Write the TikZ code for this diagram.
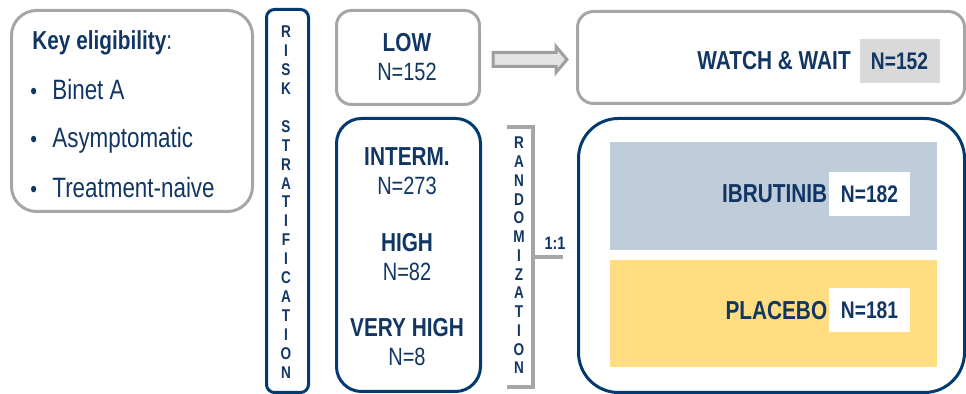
\documentclass[tikz,border=0pt]{standalone}
\usepackage{fontspec}
\setmainfont{Liberation Sans}[FakeStretch=0.8]
\usetikzlibrary{positioning,calc}

\definecolor{navy}{RGB}{0,58,112}
\definecolor{navytext}{RGB}{18,54,100}
\definecolor{boxgray}{RGB}{166,166,166}
\definecolor{taggray}{RGB}{217,217,217}
\definecolor{ibrublue}{RGB}{191,205,219}
\definecolor{placeboyellow}{RGB}{255,221,128}

\begin{document}
\begin{tikzpicture}[
  x=0.5pt, y=-0.5pt,
  every node/.style={text=navytext},
  greybox/.style={rectangle, draw=boxgray, line width=1.5pt, anchor=north west},
  navybox/.style={rectangle, draw=navy, line width=1.5pt, anchor=north west},
  armbox/.style={rectangle, anchor=north west, minimum width=163.5pt, minimum height=53.5pt},
  tag/.style={rectangle, minimum width=40.5pt, minimum height=22pt, inner sep=0pt, font=\fontsize{12}{14}\selectfont\bfseries},
  grouplbl/.style={font=\fontsize{13}{15}\selectfont\bfseries, inner sep=0pt},
  nval/.style={font=\fontsize{12.5}{15}\selectfont, inner sep=0pt},
  letter/.style={font=\fontsize{8.5}{9}\selectfont\bfseries, inner sep=0pt},
  elig/.style={font=\fontsize{14}{16}\selectfont, inner sep=0pt, anchor=base west},
  bigarrow/.style={draw=gray!75, fill=gray!22, line width=1.5pt, line join=miter},
  bracket/.style={draw=boxgray, line width=2pt}
]
\useasboundingbox (0,0) rectangle (966,394);

% Eligibility (left)
\node[greybox, rounded corners=12.5pt, minimum width=120.5pt, minimum height=100.5pt] (eligbox) at (10,9) {};
\node[font=\fontsize{13}{15}\selectfont\bfseries, anchor=base west, inner sep=0pt] (keyhd) at (32,50) {Key eligibility\textmd{:}};
\foreach \t/\yy [count=\k] in {Binet A/100, Asymptomatic/148, Treatment-naive/198} {
  \node[elig, font=\fontsize{12}{14}\selectfont] (dot\k) at (30,\yy) {•};
  \node[elig] (crit\k) at (52,\yy) {\t};
}

% Risk stratification strip
\node[navybox, rounded corners=4pt, minimum width=21pt, minimum height=191.5pt] (riskstrip) at (265,8) {};
\foreach \l [count=\i from 0] in {R,I,S,K,{},S,T,R,A,T,I,F,I,C,A,T,I,O,N}
  \node[letter] (risk\i) at (286,{32+18.9*\i}) {\l};

% Risk groups
\node[greybox, rounded corners=7.5pt, minimum width=71.5pt, minimum height=47pt] (low) at (335,9) {};
\node[grouplbl, anchor=base] (lowlbl) at (407,52) {LOW};
\node[nval, anchor=base] (lown) at (407,81) {N=152};

\node[navybox, rounded corners=12.5pt, minimum width=72pt, minimum height=136.5pt] (strat) at (335,117) {};
\foreach \g/\n/\yy [count=\k] in {INTERM./273/166, HIGH/82/252, VERY HIGH/8/337} {
  \node[grouplbl, anchor=base] (grp\k) at (407,\yy) {\g};
  \node[nval, anchor=base] (grpn\k) at (407,{\yy+29}) {N=\n};
}

% Watch & wait
\node[greybox, rounded corners=8pt, minimum width=193.5pt, minimum height=46pt] (watch) at (576,10) {};
\node[tag, fill=taggray, minimum width=40pt] (wwn) at (899.5,61) {N=152};
\node[grouplbl, left=4pt of wwn] (wwlbl) {WATCH \& WAIT};

% Arrow low -> watch
\coordinate (arrS) at ($(low.east)+(12,2)$);
\coordinate (arrT) at ($(watch.west)+(-9,2)$);
\draw[bigarrow] ($(arrS)+(0,-7)$) -- ($(arrT)+(-11,-7)$) -- ($(arrT)+(-11,-13)$) -- (arrT)
  -- ($(arrT)+(-11,13)$) -- ($(arrT)+(-11,7)$) -- ($(arrS)+(0,7)$) -- cycle;

% Randomization bracket
\coordinate (rndtop) at (507,127);
\coordinate (rndbot) at (507,387);
\coordinate (rndmid) at (533,257);
\coordinate (rndout) at (563,257);
\draw[bracket] (rndtop) -- (533,127) -- (533,387) -- (rndbot);
\draw[bracket] (rndmid) -- (rndout);
\foreach \l [count=\i from 0] in {R,A,N,D,O,M,I,Z,A,T,I,O,N}
  \node[letter] (rnd\i) at (519,{143+18.75*\i}) {\l};
\node[font=\fontsize{9}{10}\selectfont\bfseries, inner sep=0pt] (ratio) at (555,243) {1:1};

% Treatment arms
\node[navybox, rounded corners=20pt, minimum width=193pt, minimum height=137pt] (treat) at (577,117) {};
\node[armbox, fill=ibrublue, minimum height=54pt] (ibru) at (610,142) {};
\node[armbox, fill=placeboyellow] (plac) at (610,260) {};
\node[tag, fill=white] (ibrun) at (869.5,194) {N=182};
\node[grouplbl, left=0.5pt of ibrun] (ibrulbl) {IBRUTINIB};
\node[tag, fill=white] (placn) at (869.5,310.5) {N=181};
\node[grouplbl, left=0.5pt of placn] (placlbl) {PLACEBO};

\end{tikzpicture}
\end{document}
